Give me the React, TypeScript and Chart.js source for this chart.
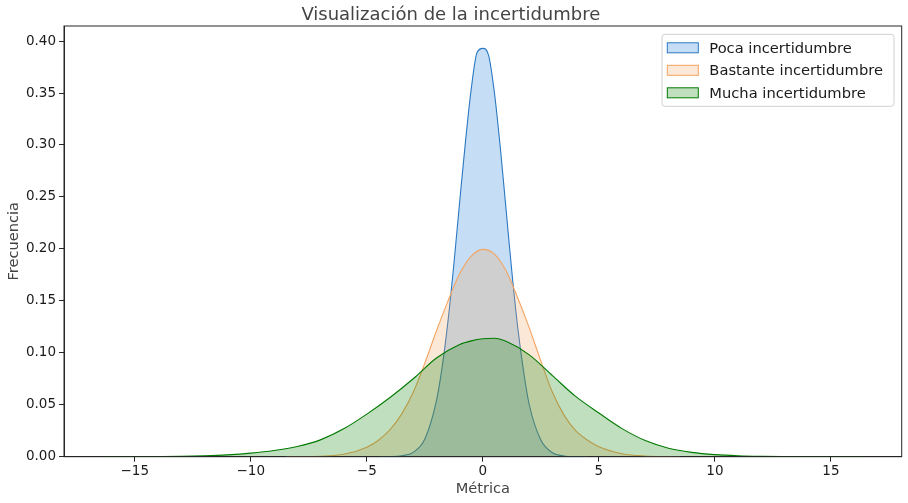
import React, { useEffect, useRef } from 'react';
import { Chart, registerables } from 'chart.js';

Chart.register(...registerables);

const titleText = 'Visualización de la incertidumbre';
const xTitle = 'Métrica';
const yTitle = 'Frecuencia';
const seriesNames = ['Poca incertidumbre', 'Bastante incertidumbre', 'Mucha incertidumbre'];

const xTicks = [-15, -10, -5, 0, 5, 10, 15];
const yTicks = [0, 0.05, 0.1, 0.15, 0.2, 0.25, 0.3, 0.35, 0.4];

// density curves
const pocaX = [-4.5, -4, -3.5, -3, -2.5, -2, -1.75, -1.5, -1.25, -1, -0.75, -0.5, -0.25, 0, 0.25, 0.5, 0.75, 1, 1.25, 1.5, 1.75, 2, 2.5, 3, 3.5, 4, 4.5];
const pocaY = [0, 0.0001, 0.0009, 0.0042, 0.017, 0.054, 0.087, 0.131, 0.185, 0.245, 0.303, 0.354, 0.389, 0.393, 0.386, 0.35, 0.298, 0.238, 0.178, 0.125, 0.083, 0.05, 0.016, 0.0038, 0.0007, 0.0001, 0];

const bastanteX = [-8.5, -8, -7, -6, -5, -4.5, -4, -3.5, -3, -2.5, -2, -1.5, -1, -0.5, 0, 0.5, 1, 1.5, 2, 2.5, 3, 3.5, 4, 4.5, 5, 6, 7, 8, 8.5];
const bastanteY = [0, 0.0001, 0.0005, 0.0023, 0.0092, 0.0158, 0.026, 0.041, 0.062, 0.09, 0.121, 0.15, 0.176, 0.193, 0.1995, 0.195, 0.179, 0.153, 0.124, 0.092, 0.062, 0.04, 0.025, 0.016, 0.0095, 0.0028, 0.0006, 0.0001, 0];

const muchaX = [-16.4, -15, -14, -13, -12, -11, -10, -9, -8, -7, -6, -5, -4, -3, -2, -1, -0.5, 0, 0.5, 1, 2, 3, 4, 5, 6, 7, 8, 9, 10, 11, 12, 13, 14, 15, 16.46];
const muchaY = [0, 0.0001, 0.0002, 0.0004, 0.0009, 0.0018, 0.0034, 0.0059, 0.0098, 0.0162, 0.0268, 0.041, 0.057, 0.075, 0.095, 0.108, 0.1115, 0.1135, 0.114, 0.111, 0.098, 0.078, 0.058, 0.042, 0.027, 0.0155, 0.0082, 0.0042, 0.002, 0.0009, 0.0004, 0.0002, 0.0001, 0, 0];

const FONT = "'DejaVu Sans', sans-serif";

const zip = (xs: number[], ys: number[]) => xs.map((x, i) => ({ x, y: ys[i] }));

// matplotlib-style legend box in the top right corner + the full frame
const framePlugin = {
  id: 'frameAndLegend',
  afterDraw(chart: Chart) {
    const { ctx, chartArea } = chart;
    ctx.save();
    ctx.strokeStyle = '#262626';
    ctx.lineWidth = 1;
    ctx.strokeRect(chartArea.left, chartArea.top, chartArea.right - chartArea.left, chartArea.bottom - chartArea.top);

    const w = 232;
    const h = 72;
    const bx = chartArea.right - 7.7 - w;
    const by = chartArea.top + 8.3;
    ctx.beginPath();
    ctx.roundRect(bx, by, w, h, 3);
    ctx.fillStyle = 'rgba(255,255,255,0.8)';
    ctx.fill();
    ctx.strokeStyle = '#d0d0d0';
    ctx.stroke();

    ctx.font = `14.7px ${FONT}`;
    ctx.textBaseline = 'middle';
    chart.data.datasets.forEach((ds: any, i: number) => {
      const cy = by + 13.5 + i * 22.5;
      ctx.fillStyle = '#ffffff';
      ctx.fillRect(bx + 5.3, cy - 5, 31, 10);
      ctx.fillStyle = ds.backgroundColor;
      ctx.fillRect(bx + 5.3, cy - 5, 31, 10);
      ctx.strokeStyle = ds.borderColor;
      ctx.strokeRect(bx + 5.3, cy - 5, 31, 10);
      ctx.fillStyle = '#1a1a1a';
      ctx.fillText(ds.label, bx + 47.3, cy + 1);
    });
    ctx.restore();
  },
};

const App: React.FC = () => {
  const canvasRef = useRef<HTMLCanvasElement | null>(null);
  const chartRef = useRef<Chart | null>(null);

  useEffect(() => {
    document.body.style.margin = '0';
    if (!canvasRef.current) return;
    if (chartRef.current) chartRef.current.destroy();

    chartRef.current = new Chart(canvasRef.current, {
      type: 'line',
      data: {
        datasets: [
          {
            label: seriesNames[0],
            data: zip(pocaX, pocaY),
            borderColor: '#2a78c2',
            backgroundColor: 'rgba(25,125,215,0.25)',
            fill: 'origin',
            order: 3,
          },
          {
            label: seriesNames[1],
            data: zip(bastanteX, bastanteY),
            borderColor: '#f4a460',
            backgroundColor: 'rgba(244,164,96,0.25)',
            fill: 'origin',
            order: 2,
          },
          {
            label: seriesNames[2],
            data: zip(muchaX, muchaY),
            borderColor: '#007a00',
            backgroundColor: 'rgba(0,128,0,0.25)',
            fill: 'origin',
            order: 1,
          },
        ],
      },
      options: {
        animation: false,
        responsive: true,
        maintainAspectRatio: false,
        layout: { padding: { left: 0, right: 6.3, top: 0, bottom: 0 } },
        elements: {
          point: { radius: 0 },
          line: { borderWidth: 1.1, cubicInterpolationMode: 'monotone' },
        },
        scales: {
          x: {
            type: 'linear',
            min: -18.05,
            max: 18.05,
            afterBuildTicks: (scale: any) => {
              scale.ticks = xTicks.map((v) => ({ value: v }));
            },
            afterFit: (scale: any) => {
              scale.height = 46.3;
            },
            grid: { drawOnChartArea: false, drawTicks: true, tickLength: 5, color: '#262626' },
            border: { display: true, color: '#262626' },
            ticks: {
              padding: 2,
              color: '#1a1a1a',
              font: { family: FONT, size: 13.5 },
              callback: (v: any) => (v < 0 ? '\u2212' + Math.abs(v) : String(v)),
            },
            title: {
              display: true,
              text: xTitle,
              color: '#444',
              font: { family: FONT, size: 14.6 },
              padding: { top: 0, bottom: 5 },
            },
          },
          y: {
            type: 'linear',
            min: 0,
            max: 0.4145,
            afterBuildTicks: (scale: any) => {
              scale.ticks = yTicks.map((v) => ({ value: v }));
            },
            afterFit: (scale: any) => {
              scale.width = 64;
            },
            grid: { drawOnChartArea: false, drawTicks: true, tickLength: 5, color: '#262626' },
            border: { display: true, color: '#262626' },
            ticks: {
              padding: 3,
              color: '#1a1a1a',
              font: { family: FONT, size: 13.5 },
              callback: (v: any) => Number(v).toFixed(2),
            },
            title: {
              display: true,
              text: yTitle,
              color: '#444',
              font: { family: FONT, size: 14.6 },
              padding: { top: 5, bottom: 0 },
            },
          },
        },
        plugins: {
          legend: { display: false },
          tooltip: { enabled: false },
          title: {
            display: true,
            text: titleText,
            color: '#444',
            font: { family: FONT, size: 18, weight: 'normal' },
            padding: { top: 4.4, bottom: 0 },
          },
        },
      },
      plugins: [framePlugin],
    });

    return () => {
      if (chartRef.current) {
        chartRef.current.destroy();
        chartRef.current = null;
      }
    };
  }, []);

  return (
    <div style={{ position: 'relative', width: 908, height: 503 }}>
      <canvas ref={canvasRef} />
    </div>
  );
};

export default App;
